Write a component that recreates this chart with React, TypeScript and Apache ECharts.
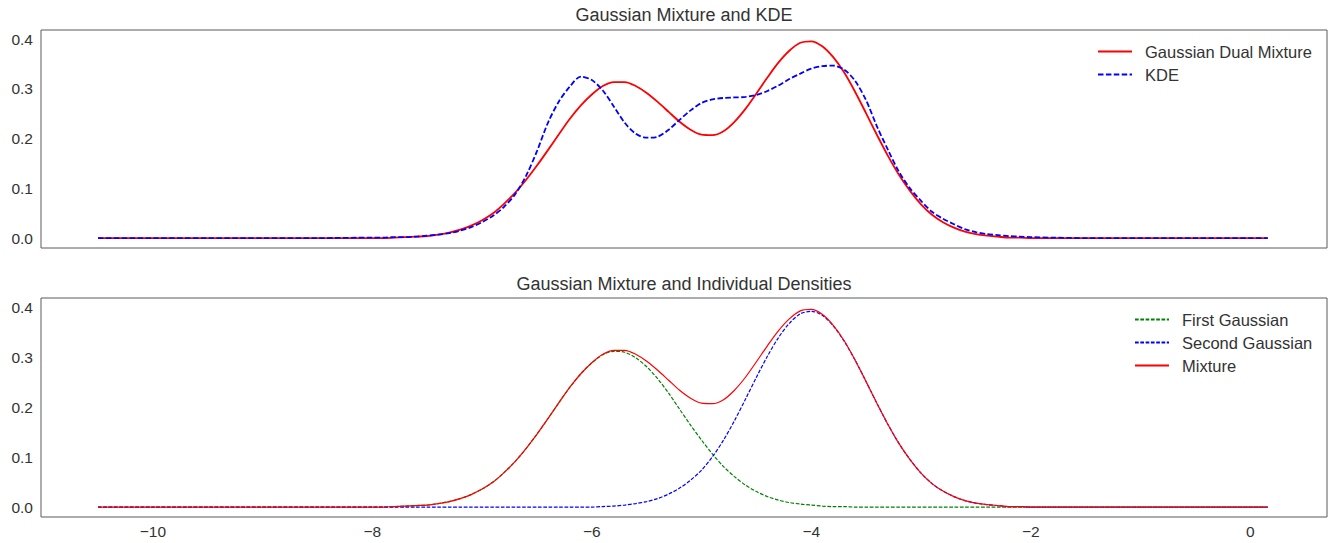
import React, { useEffect, useRef } from 'react';
import * as echarts from 'echarts';

// sample grid (x values) shared by every curve
const xGrid = [
  -10.5, -10, -9.5, -9, -8.5, -8,
  -7.9, -7.8, -7.7, -7.6, -7.5, -7.4, -7.3, -7.2, -7.1, -7.0,
  -6.9, -6.8, -6.7, -6.6, -6.5, -6.4, -6.3, -6.2, -6.1, -6.0,
  -5.9, -5.8, -5.7, -5.6, -5.5, -5.4, -5.3, -5.2, -5.1, -5.0,
  -4.9, -4.8, -4.7, -4.6, -4.5, -4.4, -4.3, -4.2, -4.1, -4.0,
  -3.9, -3.8, -3.7, -3.6, -3.5, -3.4, -3.3, -3.2, -3.1, -3.0,
  -2.9, -2.8, -2.7, -2.6, -2.5, -2.4, -2.3, -2.2, -2.1, -2.0,
  -1.8, -1.5, -1, -0.5, 0, 0.16,
];

const kde = [
  0, 0, 0, 0, 0, 0.001,
  0.001, 0.002, 0.002, 0.003, 0.005, 0.007, 0.010, 0.015, 0.022, 0.032,
  0.045, 0.063, 0.088, 0.125, 0.175, 0.232, 0.275, 0.305, 0.325, 0.318,
  0.297, 0.265, 0.232, 0.210, 0.202, 0.204, 0.218, 0.238, 0.257, 0.272,
  0.279, 0.282, 0.283, 0.284, 0.288, 0.296, 0.307, 0.320, 0.331, 0.341,
  0.346, 0.347, 0.339, 0.316, 0.277, 0.224, 0.177, 0.133, 0.100, 0.075,
  0.053, 0.039, 0.028, 0.018, 0.012, 0.008, 0.006, 0.004, 0.003, 0.002,
  0.001, 0, 0, 0, 0, 0,
];

const firstGaussian = [
  0, 0, 0, 0, 0, 0,
  0.000, 0.001, 0.002, 0.003, 0.004, 0.007, 0.011, 0.017, 0.025, 0.036,
  0.050, 0.069, 0.091, 0.117, 0.146, 0.177, 0.209, 0.240, 0.267, 0.289,
  0.305, 0.312, 0.310, 0.299, 0.281, 0.257, 0.228, 0.196, 0.164, 0.134,
  0.106, 0.081, 0.061, 0.044, 0.031, 0.021, 0.014, 0.009, 0.006, 0.004,
  0.002, 0.001, 0.001, 0, 0, 0, 0, 0, 0, 0,
  0, 0, 0, 0, 0, 0, 0, 0, 0, 0,
  0, 0, 0, 0, 0, 0,
];

const secondGaussian = [
  0, 0, 0, 0, 0, 0,
  0, 0, 0, 0, 0, 0, 0, 0, 0, 0,
  0, 0, 0, 0, 0, 0, 0, 0, 0, 0,
  0.001, 0.002, 0.004, 0.007, 0.011, 0.017, 0.026, 0.038, 0.054, 0.074,
  0.101, 0.134, 0.173, 0.216, 0.260, 0.302, 0.339, 0.368, 0.387, 0.392,
  0.384, 0.363, 0.332, 0.294, 0.251, 0.207, 0.165, 0.127, 0.095, 0.068,
  0.047, 0.032, 0.021, 0.013, 0.008, 0.005, 0.003, 0.001, 0.001, 0.000,
  0, 0, 0, 0, 0, 0,
];

const mixture = [
  0, 0, 0, 0, 0, 0,
  0.000, 0.001, 0.002, 0.003, 0.004, 0.007, 0.011, 0.017, 0.025, 0.036,
  0.050, 0.069, 0.091, 0.117, 0.146, 0.177, 0.209, 0.240, 0.267, 0.289,
  0.306, 0.314, 0.314, 0.306, 0.292, 0.274, 0.254, 0.234, 0.218, 0.208,
  0.207, 0.215, 0.234, 0.260, 0.291, 0.323, 0.353, 0.377, 0.393, 0.396,
  0.386, 0.364, 0.333, 0.294, 0.251, 0.207, 0.165, 0.127, 0.095, 0.068,
  0.047, 0.032, 0.021, 0.013, 0.008, 0.005, 0.003, 0.001, 0.001, 0.000,
  0, 0, 0, 0, 0, 0,
];

const xTicks = [-10, -8, -6, -4, -2, 0];
const yTicks = [0, 0.1, 0.2, 0.3, 0.4];

const FONT = '"Liberation Sans", Arial, sans-serif';
const TEXT = '#333333';

const App: React.FC = () => {
  const chartRef = useRef<HTMLDivElement>(null);

  useEffect(() => {
    if (!chartRef.current) return;
    const chart = echarts.init(chartRef.current, undefined, { renderer: 'svg' });

    const pairs = (ys: number[]) => xGrid.map((x, i) => [x, ys[i]]);

    const xAxisBase = {
      type: 'value' as const,
      min: -11.02,
      max: 0.7,
      axisLine: { show: false },
      axisTick: { show: false },
      splitLine: { show: false },
    };
    const yAxisBase = {
      type: 'value' as const,
      min: -0.0199,
      max: 0.4187,
      axisLine: { show: false },
      axisTick: { show: false },
      splitLine: { show: false },
      axisLabel: {
        customValues: yTicks,
        formatter: (v: number) => v.toFixed(1),
        fontSize: 15.5,
        color: TEXT,
        fontFamily: FONT,
        margin: 8,
      },
    };
    const gridBase = { show: true, borderColor: '#5a5a5a', borderWidth: 1, left: 41, width: 1286 };

    const line = (name: string, data: number[], xi: number, color: string, width: number, dash?: number[]) => ({
      name,
      type: 'line' as const,
      xAxisIndex: xi,
      yAxisIndex: xi,
      data: pairs(data),
      showSymbol: false,
      symbol: 'none',
      smooth: 0.3,
      lineStyle: { color, width, type: dash ? dash : 'solid' },
      itemStyle: { color },
    });

    const legendText = { fontSize: 16.5, color: TEXT, fontFamily: FONT, lineHeight: 16, padding: [0, 0, 0, 8] };

    const option: echarts.EChartsOption = {
      animation: false,
      backgroundColor: '#ffffff',
      title: [
        {
          text: 'Gaussian Mixture and KDE',
          left: 684,
          top: 6,
          textAlign: 'center',
          padding: 0,
          textStyle: { fontSize: 18, fontWeight: 'normal', color: TEXT, fontFamily: FONT },
        },
        {
          text: 'Gaussian Mixture and Individual Densities',
          left: 684,
          top: 275,
          textAlign: 'center',
          padding: 0,
          textStyle: { fontSize: 18, fontWeight: 'normal', color: TEXT, fontFamily: FONT },
        },
      ],
      legend: [
        {
          data: ['Gaussian Dual Mixture', 'KDE'],
          orient: 'vertical',
          left: 1097,
          top: 43,
          itemWidth: 34,
          itemHeight: 14,
          itemGap: 6,
          padding: 0,
          itemStyle: { opacity: 0 },
          textStyle: legendText,
        },
        {
          data: ['First Gaussian', 'Second Gaussian', 'Mixture'],
          orient: 'vertical',
          left: 1134,
          top: 311,
          itemWidth: 34,
          itemHeight: 14,
          itemGap: 6,
          padding: 0,
          itemStyle: { opacity: 0 },
          textStyle: legendText,
        },
      ],
      grid: [
        { ...gridBase, top: 30, height: 218 },
        { ...gridBase, top: 298, height: 219 },
      ],
      xAxis: [
        { ...xAxisBase, gridIndex: 0, axisLabel: { show: false } },
        {
          ...xAxisBase,
          gridIndex: 1,
          axisLabel: {
            customValues: xTicks,
            formatter: (v: number) => (v < 0 ? '\u2212' + Math.abs(v) : String(v)),
            fontSize: 15.5,
            color: TEXT,
            fontFamily: FONT,
            margin: 6,
          },
        },
      ],
      yAxis: [
        { ...yAxisBase, gridIndex: 0 },
        { ...yAxisBase, gridIndex: 1 },
      ],
      series: [
        line('Gaussian Dual Mixture', mixture, 0, '#ff0000', 1.8),
        line('KDE', kde, 0, '#0000ff', 1.8, [5.5, 2.4]),
        line('First Gaussian', firstGaussian, 1, '#008000', 1.2, [3.7, 1.6]),
        line('Second Gaussian', secondGaussian, 1, '#0000ff', 1.2, [3.7, 1.6]),
        line('Mixture', mixture, 1, '#ff0000', 1.2),
      ],
    };

    chart.setOption(option);

    return () => {
      chart.dispose();
    };
  }, []);

  return <div ref={chartRef} style={{ position: 'fixed', left: 0, top: 0, width: 1338, height: 543 }} />;
};

export default App;
